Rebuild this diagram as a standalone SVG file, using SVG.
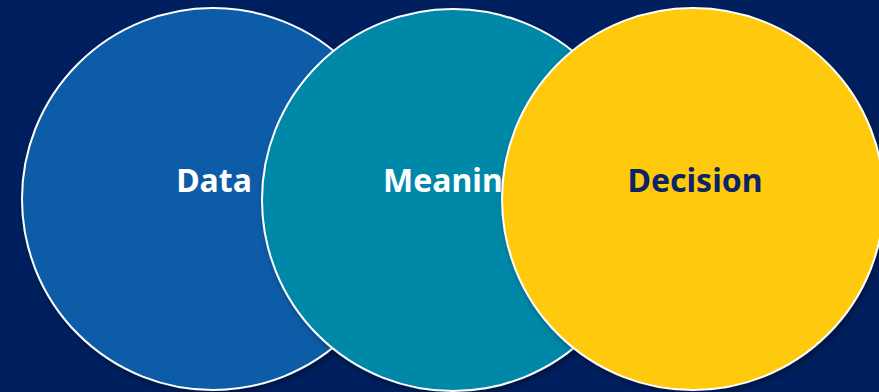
<svg xmlns="http://www.w3.org/2000/svg" width="879" height="392" viewBox="0 0 879 392">
<style>
.c{stroke:#ffffff;stroke-width:2;filter:url(#sh)}
.t{font-family:"Noto Sans","Open Sans","Liberation Sans",sans-serif;font-weight:bold;font-size:32px;text-anchor:middle}
</style>
<defs>
<filter id="sh" x="-10%" y="-10%" width="120%" height="120%">
<feDropShadow dx="2" dy="3" stdDeviation="3" flood-color="#000000" flood-opacity="0.35"/>
</filter>
</defs>
<rect width="879" height="392" fill="#001f5e"/>
<g id="data">
<circle class="c" cx="213" cy="199" r="191" fill="#0b5ca8"/>
<text class="t" x="214" y="192" fill="#ffffff">Data</text>
</g>
<g id="meaning">
<circle class="c" cx="453" cy="200" r="191" fill="#0088a8"/>
<text class="t" x="453" y="192" fill="#ffffff">Meaning</text>
</g>
<g id="decision">
<circle class="c" cx="693" cy="199" r="191" fill="#ffca08"/>
<text class="t" x="695" y="192" fill="#0c2366">Decision</text>
</g>
<g id="connectors"></g>
</svg>
